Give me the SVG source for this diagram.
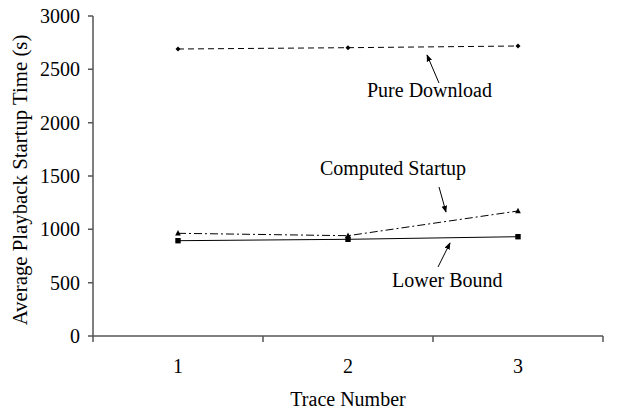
<svg xmlns="http://www.w3.org/2000/svg" width="618" height="411" viewBox="0 0 618 411">
  <style>
    text { font-family: "Liberation Serif", "Times New Roman", serif; font-size: 20px; fill: #000; }
    .axis { stroke: #555; stroke-width: 1.5; fill: none; }
    .ytick { text-anchor: end; }
    .xtick { text-anchor: middle; }
    .ytitle { text-anchor: middle; font-size: 20.8px; }
    .series { fill: none; stroke: #000; stroke-width: 1; }
    .callout { stroke: #000; stroke-width: 1; fill: none; marker-end: url(#tip); }
  </style>
  <defs>
    <marker id="tip" viewBox="0 0 10 10" refX="9" refY="5" markerWidth="7" markerHeight="7" orient="auto" markerUnits="userSpaceOnUse">
      <path d="M0,1 L10,5 L0,9 z" fill="#000"/>
    </marker>
    <path id="diamond" d="M0,-2.5 L2.5,0 L0,2.5 L-2.5,0 z" fill="#000"/>
    <path id="triangle" d="M0,-3.2 L2.8,2.3 L-2.8,2.3 z" fill="#000"/>
    <rect id="square" x="-2.7" y="-2.7" width="5.4" height="5.4" fill="#000"/>
  </defs>

  <!-- axes, ticks and tick labels -->
  <g id="axes">
    <path class="axis" d="M93,16 V336 H603"/>
    <path class="axis" d="M88,16 H93 M88,69.3 H93 M88,122.7 H93 M88,176 H93 M88,229.3 H93 M88,282.7 H93 M88,336 H93"/>
    <path class="axis" d="M93,336 V342 M263,336 V342 M433,336 V342 M603,336 V342"/>
    <text class="ytick" x="80" y="23">3000</text>
    <text class="ytick" x="80" y="76.3">2500</text>
    <text class="ytick" x="80" y="129.7">2000</text>
    <text class="ytick" x="80" y="183">1500</text>
    <text class="ytick" x="80" y="236.3">1000</text>
    <text class="ytick" x="80" y="289.7">500</text>
    <text class="ytick" x="80" y="343">0</text>
    <text class="xtick" x="178" y="373">1</text>
    <text class="xtick" x="348" y="373">2</text>
    <text class="xtick" x="518" y="373">3</text>
    <text class="xtick" x="348" y="406">Trace Number</text>
    <text class="ytitle" transform="translate(27,180) rotate(-90)">Average Playback Startup Time (s)</text>
  </g>

  <!-- data series -->
  <g id="pure-download">
    <polyline class="series" stroke-dasharray="6,4" points="178,49 348,47.7 518,46"/>
    <use href="#diamond" x="178" y="49"/>
    <use href="#diamond" x="348" y="47.7"/>
    <use href="#diamond" x="518" y="46"/>
  </g>
  <g id="computed-startup">
    <polyline class="series" stroke-dasharray="8,3,2,3" points="178,233.3 348,235.7 518,211"/>
    <use href="#triangle" x="178" y="233.3"/>
    <use href="#triangle" x="348" y="235.7"/>
    <use href="#triangle" x="518" y="211"/>
  </g>
  <g id="lower-bound">
    <polyline class="series" points="178,240.7 348,239.3 518,236.7"/>
    <use href="#square" x="178" y="240.7"/>
    <use href="#square" x="348" y="239.3"/>
    <use href="#square" x="518" y="236.7"/>
  </g>

  <!-- callout arrows from labels to their series -->
  <g id="connectors">
    <line class="callout" x1="439" y1="83" x2="427" y2="55"/>
    <line class="callout" x1="439" y1="187" x2="446" y2="212"/>
    <line class="callout" x1="438" y1="267" x2="450" y2="243"/>
  </g>
  <g id="label-pure">
    <text x="367" y="97">Pure Download</text>
  </g>
  <g id="label-computed">
    <text x="320" y="175">Computed Startup</text>
  </g>
  <g id="label-lower">
    <text x="392" y="287">Lower Bound</text>
  </g>
</svg>
